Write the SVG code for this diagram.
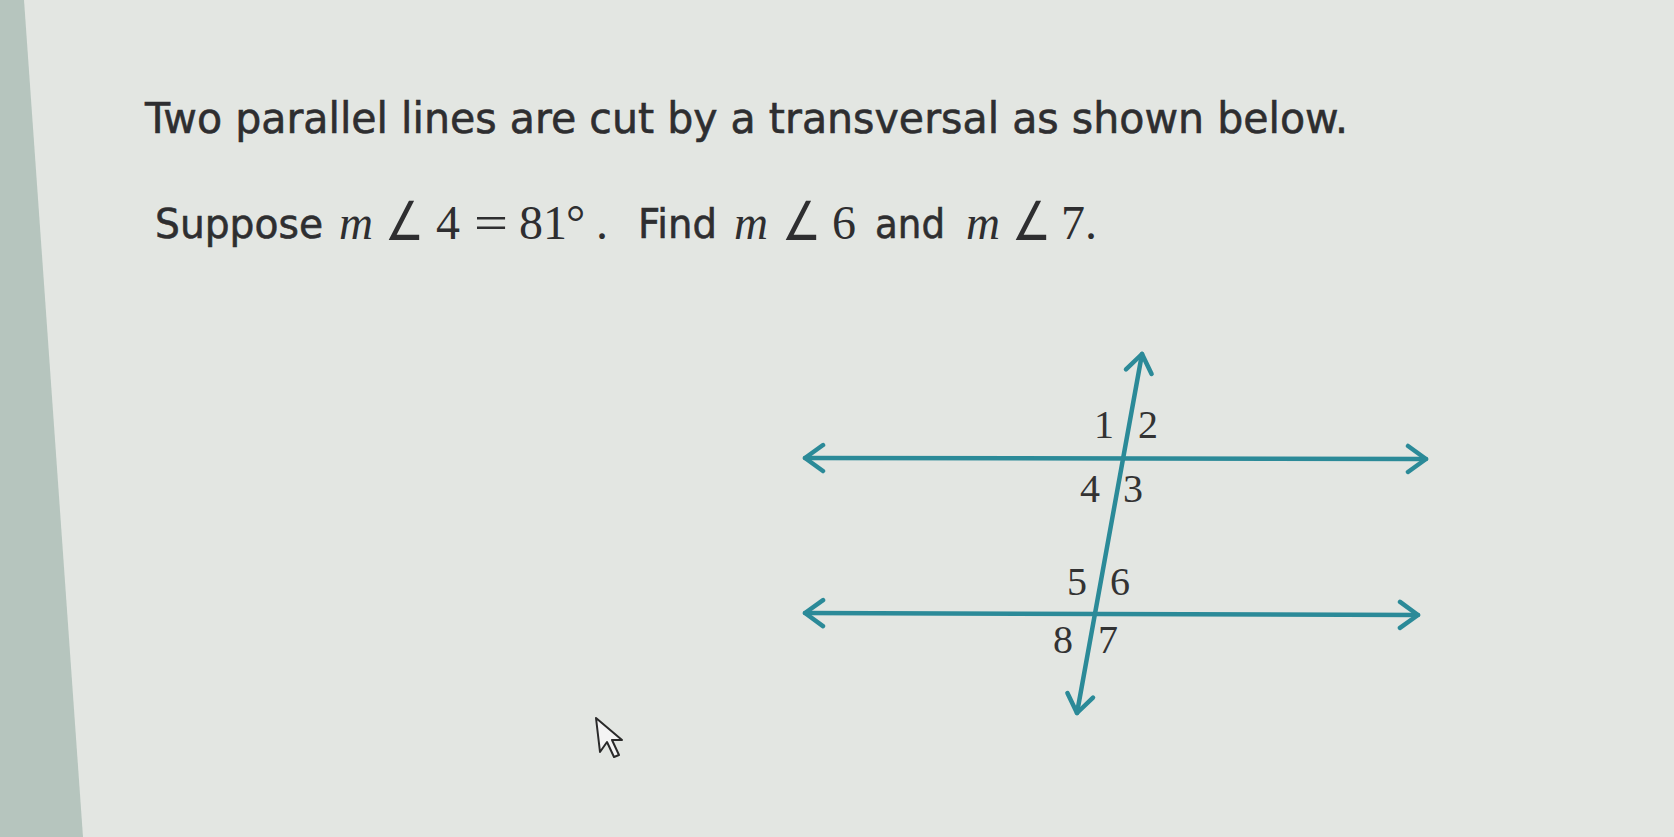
<svg xmlns="http://www.w3.org/2000/svg" width="1674" height="837" viewBox="0 0 1674 837">
  <defs>
    <style>
      .sans { font-family: "DejaVu Sans", Verdana, "Liberation Sans", sans-serif; fill: #2e2e30; stroke: #2e2e30; stroke-width: 0.6; }
      .serif { font-family: "Liberation Serif", "Times New Roman", serif; fill: #2e2e30; font-size: 48px; }
      .ang { font-family: "DejaVu Sans", sans-serif; fill: #2e2e30; font-size: 54px; }
      .ital { font-style: italic; }
      .lbl { font-family: "Liberation Serif", "Times New Roman", serif; font-size: 40px; fill: #333; text-anchor: middle; }
      .ln { stroke: #2b8a98; stroke-width: 4.5; fill: none; stroke-linecap: round; marker-start: url(#chev); marker-end: url(#chev); }
    </style>
    <marker id="chev" viewBox="-22 -16 26 32" refX="0" refY="0" markerWidth="26" markerHeight="32" markerUnits="userSpaceOnUse" orient="auto-start-reverse">
      <path d="M-18,-13 L0,0 L-18,13" fill="none" stroke="#2b8a98" stroke-width="4.5" stroke-linecap="round" stroke-linejoin="round"/>
    </marker>
  </defs>

  <!-- background -->
  <rect x="0" y="0" width="1674" height="837" fill="#e3e6e2"/>
  <polygon points="0,0 24,0 83,837 0,837" fill="#b6c5be"/>

  <!-- text -->
  <g id="title">
    <text class="sans" x="145" y="133" font-size="42" textLength="1203" lengthAdjust="spacingAndGlyphs">Two parallel lines are cut by a transversal as shown below.</text>
  </g>
  <g id="question">
    <text class="sans" x="155" y="238" font-size="41" textLength="168" lengthAdjust="spacingAndGlyphs">Suppose</text>
    <text class="serif ital" x="339" y="239" textLength="34" lengthAdjust="spacingAndGlyphs">m</text>
    <text class="ang" x="385" y="240" textLength="39" lengthAdjust="spacingAndGlyphs">∠</text>
    <text class="serif" x="436" y="239">4</text>
    <text class="serif" x="474" y="239" textLength="34" lengthAdjust="spacingAndGlyphs">=</text>
    <text class="serif" x="519" y="239">81</text>
    <text class="serif" x="566" y="239">°</text>
    <text class="serif" x="596" y="239">.</text>
    <text class="sans" x="638" y="238" font-size="41" textLength="79" lengthAdjust="spacingAndGlyphs">Find</text>
    <text class="serif ital" x="734" y="239" textLength="34" lengthAdjust="spacingAndGlyphs">m</text>
    <text class="ang" x="782" y="240" textLength="39" lengthAdjust="spacingAndGlyphs">∠</text>
    <text class="serif" x="832" y="239">6</text>
    <text class="sans" x="875" y="238" font-size="41" textLength="70" lengthAdjust="spacingAndGlyphs">and</text>
    <text class="serif ital" x="966" y="239" textLength="34" lengthAdjust="spacingAndGlyphs">m</text>
    <text class="ang" x="1012" y="240" textLength="39" lengthAdjust="spacingAndGlyphs">∠</text>
    <text class="serif" x="1061" y="239">7.</text>
  </g>

  <!-- connectors (lines) -->
  <g id="lines">
    <line class="ln" x1="805" y1="458" x2="1426" y2="459"/>
    <line class="ln" x1="805" y1="613" x2="1418" y2="615"/>
    <line class="ln" x1="1142" y1="354" x2="1077" y2="713"/>
  </g>

  <!-- angle labels -->
  <g id="angle-labels">
    <text class="lbl" x="1104" y="438">1</text>
    <text class="lbl" x="1148" y="438">2</text>
    <text class="lbl" x="1090" y="502">4</text>
    <text class="lbl" x="1133" y="502">3</text>
    <text class="lbl" x="1077" y="595">5</text>
    <text class="lbl" x="1120" y="595">6</text>
    <text class="lbl" x="1063" y="653">8</text>
    <text class="lbl" x="1108" y="653">7</text>
  </g>

  <!-- mouse cursor -->
  <g id="cursor">
    <polygon points="596,718 600,752 607,742 614,757 619,755 612,740 622,740" fill="#f4f4f4" stroke="#2a2a2a" stroke-width="2" stroke-linejoin="round"/>
  </g>
</svg>
